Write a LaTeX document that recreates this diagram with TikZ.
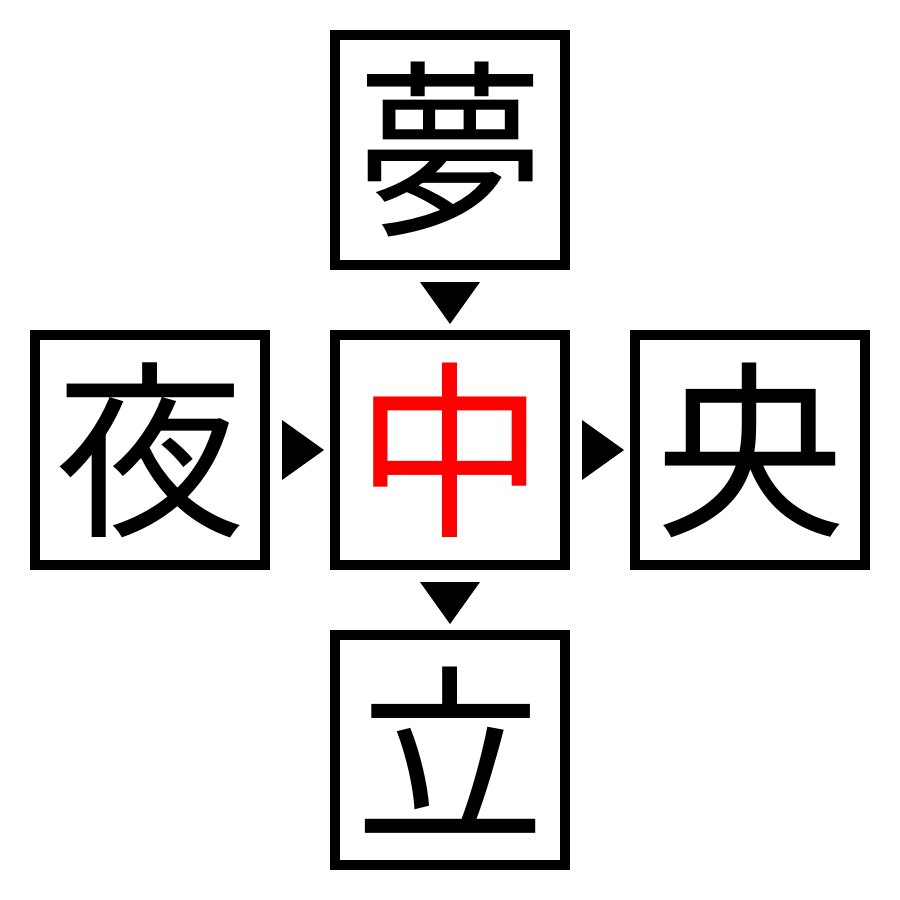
\documentclass[tikz,border=0pt]{standalone}
\usepackage{fontspec}
\newfontfamily\cjk{Noto Sans CJK JP}
\usetikzlibrary{calc}
\begin{document}
\begin{tikzpicture}[x=0.01cm,y=-0.01cm,
  cbox/.style={draw=black,line width=0.1cm,minimum size=2.3cm,inner sep=0pt,
    font=\cjk\fontsize{54pt}{54pt}\selectfont,text=black},
  tri/.style={fill=black,draw=none}]
\useasboundingbox (0,0) rectangle (900,900);
\node[cbox] (top) at (450,150) {夢};
\node[cbox] (left) at (150,450) {夜};
\node[cbox,text=red] (mid) at (450,450) {中};
\node[cbox] (right) at (750,450) {央};
\node[cbox] (bot) at (450,750) {立};
\coordinate (a1) at ($(top.south)!0.5!(mid.north)$);
\coordinate (a2) at ($(left.east)!0.5!(mid.west)$);
\coordinate (a3) at ($(mid.east)!0.5!(right.west)$);
\coordinate (a4) at ($(mid.south)!0.5!(bot.north)$);
\fill[tri] ($(a1)+(-30,-18)$) -- ($(a1)+(30,-18)$) -- ($(a1)+(0,24)$) -- cycle;
\fill[tri] ($(a4)+(-30,-18)$) -- ($(a4)+(30,-18)$) -- ($(a4)+(0,24)$) -- cycle;
\fill[tri] ($(a2)+(-18,-30)$) -- ($(a2)+(-18,30)$) -- ($(a2)+(24,0)$) -- cycle;
\fill[tri] ($(a3)+(-18,-30)$) -- ($(a3)+(-18,30)$) -- ($(a3)+(24,0)$) -- cycle;
\end{tikzpicture}
\end{document}
